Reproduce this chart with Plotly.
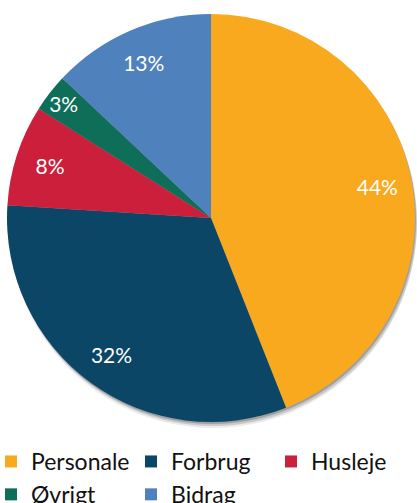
"""Pie chart: cost distribution (Personale, Forbrug, Husleje, Øvrigt, Bidrag)."""

import plotly.graph_objects as go

W, H = 417, 503
PLOT_H = 428  # plot area height; the legend sits in the bottom margin

labels = ["Personale", "Forbrug", "Husleje", "Øvrigt", "Bidrag"]
values = [44, 32, 8, 3, 13]
colors = ["#F9A91D", "#0B4666", "#CC1F3B", "#0F6E57", "#4F81BD"]

FONT = "Lato, Open Sans, sans-serif"


def dom(x0, x1, y0, y1):
    # pixel box (from top-left of figure) -> plot-area domain
    return dict(x=[max(x0 / W, 0), min(x1 / W, 1)],
                y=[max(1 - y1 / PLOT_H, 0), min(1 - y0 / PLOT_H, 1)])


PIE_BOX = (7, 415, 14, 422)

fig = go.Figure()

# soft drop shadow behind the pie
for dx, dy, a in [(2, 6, 0.08), (2, 4, 0.14), (1, 2, 0.2)]:
    x0, x1, y0, y1 = PIE_BOX
    fig.add_trace(go.Pie(
        values=[1], labels=["shadow"], marker=dict(colors=[f"rgba(0,0,0,{a})"]),
        domain=dom(x0 + dx, x1 + dx, y0 + dy, min(y1 + dy, PLOT_H)),
        textinfo="none", hoverinfo="skip", showlegend=False, sort=False,
    ))

# the slices
fig.add_trace(go.Pie(
    labels=labels,
    values=values,
    marker=dict(colors=colors, line=dict(width=0)),
    sort=False,
    direction="clockwise",
    rotation=0,
    textinfo="none",
    domain=dom(*PIE_BOX),
    showlegend=True,
))

# transparent ring on top, used only to place the % labels near the rim
fig.add_trace(go.Pie(
    labels=labels,
    values=values,
    hole=0.66,
    marker=dict(colors=["rgba(0,0,0,0)"] * len(values), line=dict(width=0)),
    sort=False,
    direction="clockwise",
    rotation=0,
    texttemplate="%{value}%",
    textposition="inside",
    insidetextorientation="horizontal",
    textfont=dict(family=FONT, size=21, color="white"),
    hoverinfo="skip",
    domain=dom(*PIE_BOX),
    showlegend=False,
))

fig.update_layout(
    width=W,
    height=H,
    margin=dict(l=0, r=0, t=0, b=H - PLOT_H, autoexpand=False),
    paper_bgcolor="white",
    plot_bgcolor="white",
    font=dict(family=FONT, color="#111111"),
    uniformtext=dict(minsize=21, mode="show"),
    legend=dict(
        orientation="h",
        x=-9 / W,
        xanchor="left",
        y=1 - 440 / PLOT_H,
        yanchor="top",
        entrywidth=95,
        entrywidthmode="pixels",
        font=dict(family=FONT, size=23, color="#111111"),
        traceorder="normal",
        tracegroupgap=0,
        itemclick=False,
    ),
)

# drop the browser's default 8px body margin so the figure fills the window
fig.write_html(
    "out.html",
    config={"displayModeBar": False},
    post_script="document.body.style.margin = '0';",
)
